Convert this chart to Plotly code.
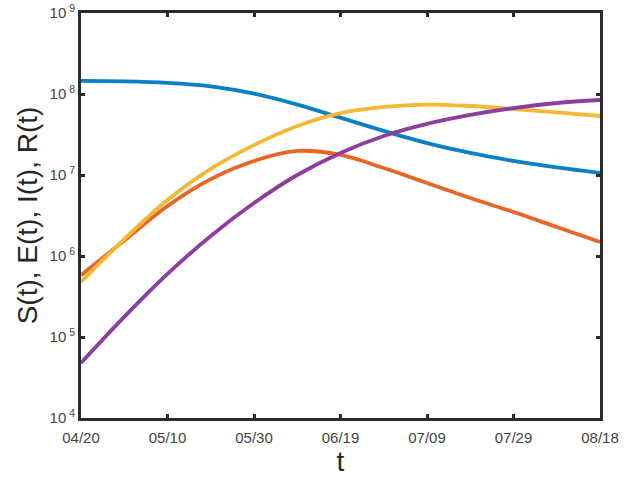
import pandas as pd
import plotly.graph_objects as go

dates = pd.date_range("2020-04-20", "2020-08-18", freq="10D")
S = [1.45e8, 1.43e8, 1.37e8, 1.24e8, 1.01e8, 7.4e7, 5.1e7, 3.5e7, 2.48e7, 1.87e7, 1.49e7, 1.24e7, 1.06e7]
E = [5.8e5, 1.55e6, 4.14e6, 8.9e6, 1.49e7, 1.98e7, 1.77e7, 1.22e7, 7.96e6, 5.2e6, 3.49e6, 2.28e6, 1.49e6]
I = [4.78e5, 1.62e6, 4.91e6, 1.19e7, 2.34e7, 4.03e7, 5.82e7, 6.92e7, 7.41e7, 7.11e7, 6.53e7, 5.92e7, 5.35e7]
R = [4.78e4, 1.77e5, 6.0e5, 1.77e6, 4.51e6, 1.0e7, 1.87e7, 3.03e7, 4.27e7, 5.51e7, 6.71e7, 7.74e7, 8.43e7]

xtick_dates = pd.date_range("2020-04-20", "2020-08-18", freq="20D")
xtick_labels = ["04/20", "05/10", "05/30", "06/19", "07/09", "07/29", "08/18"]
ytick_vals = [1e4, 1e5, 1e6, 1e7, 1e8, 1e9]
ytick_labels = ["10<sup> 4</sup>", "10<sup> 5</sup>", "10<sup> 6</sup>", "10<sup> 7</sup>", "10<sup> 8</sup>", "10<sup> 9</sup>"]

series = [("S", S, "#0A80C6"), ("E", E, "#EA6424"), ("I", I, "#F3B935"), ("R", R, "#8C3D9E")]

fig = go.Figure()
for name, vals, col in series:
    fig.add_trace(go.Scatter(x=dates, y=vals, mode="lines", name=name,
                             line=dict(color=col, width=3.8, shape="spline", smoothing=1.0)))

axcol = "#2b2b2b"
fig.update_layout(
    width=631, height=477,
    margin=dict(l=81, r=31, t=13, b=59),
    paper_bgcolor="white", plot_bgcolor="white",
    showlegend=False,
    font=dict(family="Liberation Sans, Arial, sans-serif", color="#444444"),
)
fig.update_xaxes(
    range=[dates[0], dates[-1]], automargin=False,
    tickvals=xtick_dates, ticktext=xtick_labels,
    ticks="inside", ticklen=4, tickwidth=3, tickcolor=axcol,
    showline=True, linewidth=3, linecolor=axcol, mirror="allticks",
    showgrid=False, zeroline=False, ticklabelstandoff=4, ticklabeloverflow="allow",
    tickfont=dict(size=15, color="#444444"),
    title=dict(text="t", font=dict(size=28, color="#262626"), standoff=12),
)
fig.update_yaxes(
    type="log", range=[4, 9], automargin=False,
    tickvals=ytick_vals, ticktext=ytick_labels,
    ticks="inside", ticklen=4, tickwidth=3, tickcolor=axcol,
    showline=True, linewidth=3, linecolor=axcol, mirror="allticks",
    showgrid=False, zeroline=False, ticklabeloverflow="allow",
    tickfont=dict(size=15, color="#444444"),
    title=dict(text="S(t), E(t), I(t), R(t)", font=dict(size=28, color="#262626"), standoff=4),
)
fig.write_html("out.html", config={"displayModeBar": False},
               post_script="document.body.style.margin='0';")
